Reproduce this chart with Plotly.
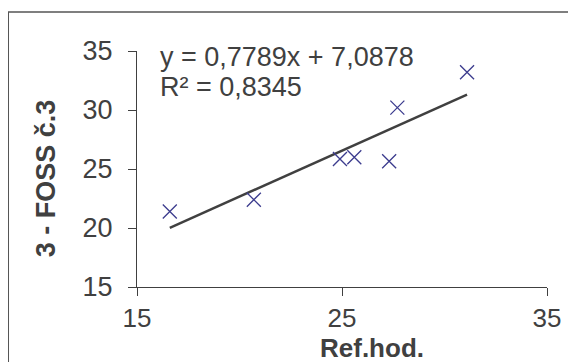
import plotly.graph_objects as go

# Data
ref_hod = [16.6, 20.7, 24.9, 25.6, 27.3, 27.7, 31.1]
foss_3 = [21.4, 22.4, 25.85, 26.0, 25.65, 30.2, 33.2]
slope = 0.7789
intercept = 7.0878
r_squared = 0.8345
x_ticks = [15, 25, 35]
y_ticks = [15, 20, 25, 30, 35]

OFF = 8  # page body margin
W, H = 576 - OFF, 362 - OFF
L, R, T = 137.3 - OFF, 29.3, 51 - OFF
B = H - T - 236.5
pw, ph = W - L - R, H - T - B

def px_x(px):  # page pixel -> paper
    return (px - OFF - L) / pw

def px_y(py):
    return (H - B - (py - OFF)) / ph

trend_x = [min(ref_hod), max(ref_hod)]
trend_y = [slope * v + intercept for v in trend_x]

font = "Liberation Sans, Arial, sans-serif"
grey = "#404040"
FS = 27

fig = go.Figure()
fig.add_trace(go.Scatter(
    x=trend_x, y=trend_y, mode="lines",
    line=dict(color="#404040", width=2.5), hoverinfo="skip", showlegend=False,
))
fig.add_trace(go.Scatter(
    x=ref_hod, y=foss_3, mode="markers",
    marker=dict(symbol="x-thin", size=14, line=dict(color="#3c3c8e", width=1.3)),
    showlegend=False,
))

def fmt(v):
    return f"{v:.4f}".replace(".", ",")

eq1 = f"y = {fmt(slope)}x + {fmt(intercept)}"
eq2 = f"R² = {fmt(r_squared)}"

fig.update_layout(
    width=W, height=H,
    margin=dict(l=L, r=R, t=T, b=B, pad=0),
    paper_bgcolor="white", plot_bgcolor="white",
    font=dict(family=font, size=FS, color=grey),
    xaxis=dict(range=[15, 35], tickvals=x_ticks, showgrid=False, zeroline=False,
               showline=True, linecolor=grey, linewidth=1,
               ticks="outside", ticklen=8, tickcolor=grey,
               tickfont=dict(size=26, color=grey), ticklabelstandoff=0),
    yaxis=dict(range=[15, 35], tickvals=y_ticks, showgrid=False, zeroline=False,
               showline=True, linecolor=grey, linewidth=1,
               ticks="outside", ticklen=8, tickcolor=grey,
               tickfont=dict(size=FS, color=grey), ticklabelstandoff=10),
    shapes=[dict(type="rect", xref="paper", yref="paper",
                 x0=px_x(8.75), x1=px_x(600), y0=px_y(400), y1=px_y(12),
                 line=dict(color="#555555", width=1.5), fillcolor="rgba(0,0,0,0)")],
    annotations=[
        dict(text=eq1, xref="paper", yref="paper", x=px_x(158), y=px_y(57),
             xanchor="left", yanchor="middle", align="left", showarrow=False,
             font=dict(size=FS, color=grey, family=font)),
        dict(text=eq2, xref="paper", yref="paper", x=px_x(158), y=px_y(87),
             xanchor="left", yanchor="middle", align="left", showarrow=False,
             font=dict(size=FS, color=grey, family=font)),
        dict(text="<b>Ref.hod.</b>", xref="paper", yref="paper", x=px_x(372), y=px_y(349),
             xanchor="center", yanchor="middle", showarrow=False,
             font=dict(size=26, color=grey, family=font)),
        dict(text="<b>3 - FOSS č.3</b>", xref="paper", yref="paper", x=px_x(46), y=px_y(179),
             xanchor="center", yanchor="middle", textangle=-90, showarrow=False,
             font=dict(size=FS, color=grey, family=font)),
    ],
)

fig.write_html("out.html")
